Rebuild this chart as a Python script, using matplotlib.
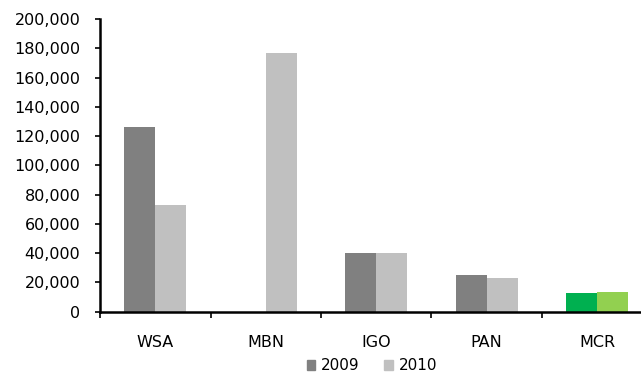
import numpy as np
import matplotlib.pyplot as plt
from matplotlib.patches import Patch
from matplotlib.ticker import FuncFormatter

companies = ['WSA', 'MBN', 'IGO', 'PAN', 'MCR']
values_2009 = [126000, 0, 40300, 25100, 12800]
values_2010 = [72900, 176800, 40300, 22800, 13500]

colors_2009 = ['#808080', '#808080', '#808080', '#808080', '#00B050']
colors_2010 = ['#C0C0C0', '#C0C0C0', '#C0C0C0', '#C0C0C0', '#92D050']

plt.rcParams['font.family'] = 'DejaVu Sans'
plt.rcParams['font.size'] = 11.5

fig = plt.figure(figsize=(6.41, 3.76), dpi=100)
ax = fig.add_axes([100 / 641, 1 - 311.7 / 376, 541 / 641, 292.7 / 376])

x = np.arange(len(companies))
w = 0.28
ax.bar(x - w / 2, values_2009, w, color=colors_2009, zorder=2)
ax.bar(x + w / 2, values_2010, w, color=colors_2010, zorder=2)

ax.set_ylim(0, 200000)
ax.set_xlim(-0.5, -0.5 + 541 / 110.5)
ax.set_yticks(np.arange(0, 200001, 20000))
ax.yaxis.set_major_formatter(FuncFormatter(lambda v, p: f'{int(v):,}'))

# category labels in the middle, tick marks on the boundaries
ax.set_xticks(x)
ax.set_xticklabels(companies)
ax.set_xticks(np.arange(-0.5, 4.0, 1.0), minor=True)
ax.tick_params(axis='x', which='major', length=0, pad=17)
ax.tick_params(axis='x', which='minor', length=4, width=1.2, direction='out')
ax.tick_params(axis='y', length=3.6, width=1.2, direction='out', pad=10.5)

for side in ['top', 'right']:
    ax.spines[side].set_visible(False)
for side in ['left', 'bottom']:
    ax.spines[side].set_linewidth(1.8)

handles = [Patch(color='#808080', label='2009'), Patch(color='#C0C0C0', label='2010')]
fig.legend(handles=handles, loc='center', bbox_to_anchor=(372 / 641, 1 - 366 / 376),
           ncol=2, frameon=False, fontsize=11, handlelength=0.55, handleheight=0.55,
           handletextpad=0.4, columnspacing=1.6)

plt.savefig('out.png', dpi=100)
